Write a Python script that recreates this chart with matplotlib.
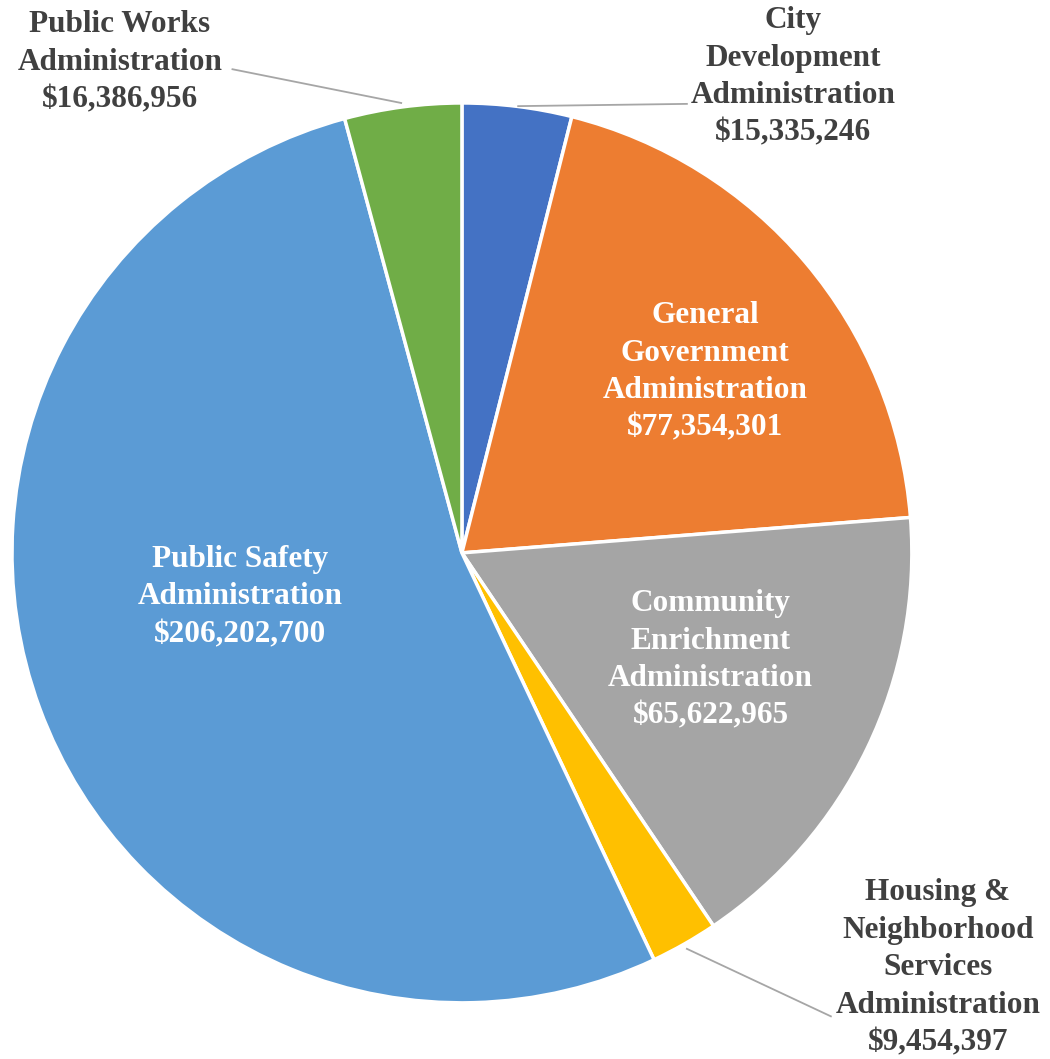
import matplotlib.pyplot as plt

plt.rcParams['font.family'] = ['Liberation Serif', 'DejaVu Serif']

departments = ['City\nDevelopment\nAdministration',
               'General\nGovernment\nAdministration',
               'Community\nEnrichment\nAdministration',
               'Housing &\nNeighborhood\nServices\nAdministration',
               'Public Safety\nAdministration',
               'Public Works\nAdministration']
budgets = [15335246, 77354301, 65622965, 9454397, 206202700, 16386956]
colors = ['#4472C4', '#ED7D31', '#A5A5A5', '#FFC000', '#5B9BD5', '#70AD47']

fig = plt.figure(figsize=(10.5, 10.59), dpi=100)
ax = fig.add_axes([0.01143, 0.0529, 0.857, 0.85])

wedges, _ = ax.pie(budgets, colors=colors, startangle=90, counterclock=False,
                   radius=1, wedgeprops=dict(edgecolor='white', linewidth=2.5))
ax.set_xlim(-1, 1)
ax.set_ylim(-1, 1)
ax.set_aspect('equal')
ax.axis('off')

# label text position, text colour, leader line (from text to wedge edge)
label_pos = [(0.736, 1.058), (0.54, 0.402), (0.553, -0.238),
             (1.058, -0.922), (-0.493, -0.098), (-0.76, 1.09)]
inside = [False, True, True, False, True, False]
leaders = {0: [(0.50, 0.998), (0.125, 0.993)],
           3: [(0.82, -1.03), (0.50, -0.88)],
           5: [(-0.51, 1.075), (-0.135, 1.0)]}

for i, (name, val) in enumerate(zip(departments, budgets)):
    x, y = label_pos[i]
    txt = f'{name}\n${val:,}'
    ax.text(x, y, txt, ha='center', va='center', fontsize=22.5,
            fontweight='bold', color='white' if inside[i] else '#404040',
            linespacing=1.39, clip_on=False)
    if i in leaders:
        (x0, y0), (x1, y1) = leaders[i]
        ax.plot([x0, x1], [y0, y1], color='#A6A6A6', lw=1.3, clip_on=False)

fig.savefig('out.png', dpi=100)
